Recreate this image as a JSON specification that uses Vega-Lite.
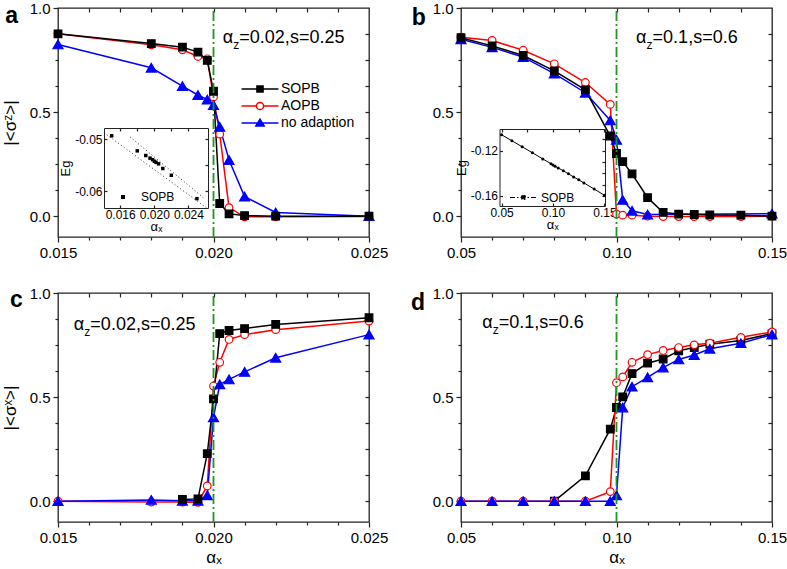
{
"$schema":"https://vega.github.io/schema/vega-lite/v6.json",
"background":"white",
"padding":{"left":0,"top":0,"right":0,"bottom":0},
"config":{
 "font":"Liberation Sans",
 "view":{"stroke":"#222","strokeWidth":1.3},
 "axis":{"grid":false,"domainColor":"#222","tickColor":"#222","tickWidth":1.2,"labelColor":"black","labelFont":"Liberation Sans","labelFontSize":15,"titleFont":"Liberation Sans","titleFontWeight":"normal","titleColor":"black","titleFontSize":17,"labelFlush":false,"labelOverlap":false},
 "legend":{"labelFont":"Liberation Sans","labelColor":"black"}
},
"datasets":{
 "a":[
  {"series":"AOPB","x":0.015,"y":0.876},{"series":"AOPB","x":0.018,"y":0.823},{"series":"AOPB","x":0.019,"y":0.799},{"series":"AOPB","x":0.0195,"y":0.767},{"series":"AOPB","x":0.0198,"y":0.756},{"series":"AOPB","x":0.02,"y":0.573},{"series":"AOPB","x":0.0202,"y":0.394},{"series":"AOPB","x":0.0205,"y":0.041},{"series":"AOPB","x":0.021,"y":-0.003},{"series":"AOPB","x":0.022,"y":-0.003},{"series":"AOPB","x":0.025,"y":-0.002},
  {"series":"no adaption","x":0.015,"y":0.825},{"series":"no adaption","x":0.018,"y":0.713},{"series":"no adaption","x":0.019,"y":0.625},{"series":"no adaption","x":0.0195,"y":0.582},{"series":"no adaption","x":0.0198,"y":0.56},{"series":"no adaption","x":0.02,"y":0.534},{"series":"no adaption","x":0.0202,"y":0.429},{"series":"no adaption","x":0.0205,"y":0.27},{"series":"no adaption","x":0.021,"y":0.094},{"series":"no adaption","x":0.022,"y":0.018},{"series":"no adaption","x":0.025,"y":0.0},
  {"series":"SOPB","x":0.015,"y":0.876},{"series":"SOPB","x":0.018,"y":0.829},{"series":"SOPB","x":0.019,"y":0.812},{"series":"SOPB","x":0.0195,"y":0.788},{"series":"SOPB","x":0.0198,"y":0.748},{"series":"SOPB","x":0.02,"y":0.6},{"series":"SOPB","x":0.0202,"y":0.061},{"series":"SOPB","x":0.0205,"y":0.011},{"series":"SOPB","x":0.021,"y":0.003},{"series":"SOPB","x":0.022,"y":0.0},{"series":"SOPB","x":0.025,"y":0.0}
 ],
 "b":[
  {"series":"AOPB","x":0.05,"y":0.86},{"series":"AOPB","x":0.06,"y":0.844},{"series":"AOPB","x":0.07,"y":0.797},{"series":"AOPB","x":0.08,"y":0.732},{"series":"AOPB","x":0.09,"y":0.642},{"series":"AOPB","x":0.098,"y":0.537},{"series":"AOPB","x":0.1,"y":0.01},{"series":"AOPB","x":0.102,"y":0.005},{"series":"AOPB","x":0.105,"y":0.005},{"series":"AOPB","x":0.11,"y":0.0},{"series":"AOPB","x":0.115,"y":-0.002},{"series":"AOPB","x":0.12,"y":-0.002},{"series":"AOPB","x":0.125,"y":-0.002},{"series":"AOPB","x":0.13,"y":-0.002},{"series":"AOPB","x":0.14,"y":-0.002},{"series":"AOPB","x":0.15,"y":0.0},
  {"series":"no adaption","x":0.05,"y":0.85},{"series":"no adaption","x":0.06,"y":0.811},{"series":"no adaption","x":0.07,"y":0.764},{"series":"no adaption","x":0.08,"y":0.685},{"series":"no adaption","x":0.09,"y":0.593},{"series":"no adaption","x":0.098,"y":0.46},{"series":"no adaption","x":0.1,"y":0.367},{"series":"no adaption","x":0.102,"y":0.078},{"series":"no adaption","x":0.105,"y":0.026},{"series":"no adaption","x":0.11,"y":0.008},{"series":"no adaption","x":0.15,"y":0.012},
  {"series":"SOPB","x":0.05,"y":0.857},{"series":"SOPB","x":0.06,"y":0.818},{"series":"SOPB","x":0.07,"y":0.772},{"series":"SOPB","x":0.08,"y":0.698},{"series":"SOPB","x":0.09,"y":0.607},{"series":"SOPB","x":0.098,"y":0.385},{"series":"SOPB","x":0.1,"y":0.301},{"series":"SOPB","x":0.102,"y":0.262},{"series":"SOPB","x":0.105,"y":0.203},{"series":"SOPB","x":0.11,"y":0.089},{"series":"SOPB","x":0.115,"y":0.018},{"series":"SOPB","x":0.12,"y":0.01},{"series":"SOPB","x":0.125,"y":0.008},{"series":"SOPB","x":0.13,"y":0.006},{"series":"SOPB","x":0.14,"y":0.005},{"series":"SOPB","x":0.15,"y":0.0}
 ],
 "c":[
  {"series":"AOPB","x":0.015,"y":0.0},{"series":"AOPB","x":0.018,"y":-0.004},{"series":"AOPB","x":0.019,"y":-0.004},{"series":"AOPB","x":0.0195,"y":-0.006},{"series":"AOPB","x":0.0198,"y":0.073},{"series":"AOPB","x":0.02,"y":0.553},{"series":"AOPB","x":0.0202,"y":0.667},{"series":"AOPB","x":0.0205,"y":0.777},{"series":"AOPB","x":0.021,"y":0.8},{"series":"AOPB","x":0.022,"y":0.824},{"series":"AOPB","x":0.025,"y":0.865},
  {"series":"no adaption","x":0.015,"y":0.0},{"series":"no adaption","x":0.018,"y":0.006},{"series":"no adaption","x":0.019,"y":0.002},{"series":"no adaption","x":0.0195,"y":0.002},{"series":"no adaption","x":0.0198,"y":0.028},{"series":"no adaption","x":0.02,"y":0.403},{"series":"no adaption","x":0.0202,"y":0.561},{"series":"no adaption","x":0.0205,"y":0.585},{"series":"no adaption","x":0.021,"y":0.621},{"series":"no adaption","x":0.022,"y":0.689},{"series":"no adaption","x":0.025,"y":0.8},
  {"series":"SOPB","x":0.019,"y":0.008},{"series":"SOPB","x":0.0195,"y":0.011},{"series":"SOPB","x":0.0198,"y":0.228},{"series":"SOPB","x":0.02,"y":0.491},{"series":"SOPB","x":0.0202,"y":0.805},{"series":"SOPB","x":0.0205,"y":0.82},{"series":"SOPB","x":0.021,"y":0.829},{"series":"SOPB","x":0.022,"y":0.849},{"series":"SOPB","x":0.025,"y":0.881}
 ],
 "d":[
  {"series":"SOPB","x":0.08,"y":0.0},{"series":"SOPB","x":0.09,"y":0.122},{"series":"SOPB","x":0.098,"y":0.346},{"series":"SOPB","x":0.1,"y":0.45},{"series":"SOPB","x":0.102,"y":0.501},{"series":"SOPB","x":0.105,"y":0.613},{"series":"SOPB","x":0.11,"y":0.663},{"series":"SOPB","x":0.115,"y":0.683},{"series":"SOPB","x":0.12,"y":0.722},{"series":"SOPB","x":0.125,"y":0.738},{"series":"SOPB","x":0.13,"y":0.754},{"series":"SOPB","x":0.14,"y":0.772},{"series":"SOPB","x":0.15,"y":0.805},
  {"series":"AOPB","x":0.05,"y":0.0},{"series":"AOPB","x":0.06,"y":0.0},{"series":"AOPB","x":0.07,"y":0.0},{"series":"AOPB","x":0.08,"y":0.0},{"series":"AOPB","x":0.09,"y":0.0},{"series":"AOPB","x":0.098,"y":0.046},{"series":"AOPB","x":0.1,"y":0.569},{"series":"AOPB","x":0.102,"y":0.597},{"series":"AOPB","x":0.105,"y":0.667},{"series":"AOPB","x":0.11,"y":0.704},{"series":"AOPB","x":0.115,"y":0.724},{"series":"AOPB","x":0.12,"y":0.738},{"series":"AOPB","x":0.125,"y":0.751},{"series":"AOPB","x":0.13,"y":0.759},{"series":"AOPB","x":0.14,"y":0.787},{"series":"AOPB","x":0.15,"y":0.813},
  {"series":"no adaption","x":0.05,"y":0.0},{"series":"no adaption","x":0.06,"y":0.0},{"series":"no adaption","x":0.07,"y":0.0},{"series":"no adaption","x":0.08,"y":0.0},{"series":"no adaption","x":0.09,"y":0.0},{"series":"no adaption","x":0.098,"y":0.0},{"series":"no adaption","x":0.1,"y":0.028},{"series":"no adaption","x":0.102,"y":0.45},{"series":"no adaption","x":0.105,"y":0.55},{"series":"no adaption","x":0.11,"y":0.595},{"series":"no adaption","x":0.115,"y":0.642},{"series":"no adaption","x":0.12,"y":0.681},{"series":"no adaption","x":0.125,"y":0.702},{"series":"no adaption","x":0.13,"y":0.732},{"series":"no adaption","x":0.14,"y":0.759},{"series":"no adaption","x":0.15,"y":0.8}
 ],
 "insetA":[
  {"series":"SOPB","x":0.015,"y":-0.0493},{"series":"SOPB","x":0.018,"y":-0.0522},{"series":"SOPB","x":0.019,"y":-0.0531},{"series":"SOPB","x":0.0195,"y":-0.0536},{"series":"SOPB","x":0.0198,"y":-0.0539},{"series":"SOPB","x":0.02,"y":-0.0542},{"series":"SOPB","x":0.0202,"y":-0.0544},{"series":"SOPB","x":0.0205,"y":-0.0547},{"series":"SOPB","x":0.021,"y":-0.0556},{"series":"SOPB","x":0.022,"y":-0.0569},{"series":"SOPB","x":0.025,"y":-0.0614}
 ],
 "insetALines":[
  {"line":"l1","x":0.0141,"y":-0.0487},{"line":"l1","x":0.02615,"y":-0.0632},
  {"line":"l2","x":0.01715,"y":-0.0495},{"line":"l2","x":0.02575,"y":-0.0612}
 ],
 "insetB":[
  {"series":"SOPB","x":0.05,"y":-0.1058},{"series":"SOPB","x":0.06,"y":-0.1111},{"series":"SOPB","x":0.07,"y":-0.1165},{"series":"SOPB","x":0.08,"y":-0.1218},{"series":"SOPB","x":0.09,"y":-0.1272},{"series":"SOPB","x":0.098,"y":-0.1315},{"series":"SOPB","x":0.1,"y":-0.1326},{"series":"SOPB","x":0.102,"y":-0.1337},{"series":"SOPB","x":0.105,"y":-0.1352},{"series":"SOPB","x":0.11,"y":-0.1378},{"series":"SOPB","x":0.115,"y":-0.1405},{"series":"SOPB","x":0.12,"y":-0.1432},{"series":"SOPB","x":0.125,"y":-0.1458},{"series":"SOPB","x":0.13,"y":-0.1485},{"series":"SOPB","x":0.14,"y":-0.154},{"series":"SOPB","x":0.15,"y":-0.1595}
 ]
},
"columns":2,
"spacing":{"row":56,"column":92},
"bounds":"flush",
"resolve":{"scale":{"stroke":"independent","fill":"independent","shape":"independent","size":"independent","color":"independent"}},
"concat":[
 {
  "width":311,"height":229,
  "layer":[
   {
    "layer":[
     {
      "data":{"name":"a"},
      "mark":{"type":"line","strokeWidth":1.5},
      "encoding":{
       "x":{"field":"x","type":"quantitative","scale":{"domain":[0.015,0.025],"nice":false,"zero":false},"axis":{"orient":"bottom","values":[0.016,0.017,0.018,0.019,0.021,0.022,0.023,0.024],"labels":false,"tickSize":3,"domain":false,"title":null}},
       "y":{"field":"y","type":"quantitative","scale":{"domain":[-0.1,1],"nice":false,"zero":false},"axis":{"orient":"left","values":[0.125,0.25,0.375,0.625,0.75,0.875],"labels":false,"tickSize":3,"domain":false,"title":null}},
       "stroke":{"field":"series","type":"nominal","scale":{"domain":["SOPB","AOPB","no adaption"],"range":["black","red","blue"]},
        "legend":{"orient":"none","legendX":192,"legendY":71,"title":null,"padding":0,"rowPadding":0,"symbolSize":324,"labelFontSize":14,"labelOffset":11,"labelColor":"black",
         "encode":{"symbols":{"update":{
          "shape":{"signal":"datum.value === 'SOPB' ? 'M-2.05,0H2.05M-0.34,-0.34H0.34V0.34H-0.34Z' : datum.value === 'AOPB' ? 'M-2.05,0H-0.4M0.4,0H2.05M-0.4,0A0.4,0.4 0 1,0 0.4,0A0.4,0.4 0 1,0 -0.4,0Z' : 'M-2.05,0H2.05M0,-0.42L0.46,0.34H-0.46Z'"},
          "fill":{"signal":"datum.value === 'SOPB' ? 'black' : datum.value === 'AOPB' ? 'white' : 'blue'"},
          "stroke":{"signal":"datum.value === 'SOPB' ? 'black' : datum.value === 'AOPB' ? 'red' : 'blue'"},
          "strokeWidth":{"value":1.5},"fillOpacity":{"value":1},"opacity":{"value":1}}}}}}
      }
     },
     {
      "data":{"name":"a"},
      "mark":{"type":"point","filled":true,"opacity":1,"strokeWidth":1.2},
      "encoding":{
       "x":{"field":"x","type":"quantitative","scale":{"domain":[0.015,0.025],"nice":false,"zero":false},"axis":{"orient":"top","values":[0.016,0.017,0.018,0.019,0.02,0.021,0.022,0.023,0.024],"labels":false,"tickSize":-4,"domain":false,"title":null}},
       "y":{"field":"y","type":"quantitative","scale":{"domain":[-0.1,1],"nice":false,"zero":false},"axis":{"orient":"right","values":[0,0.125,0.25,0.375,0.5,0.625,0.75,0.875],"labels":false,"tickSize":-4,"domain":false,"title":null}},
       "shape":{"field":"series","type":"nominal","scale":{"domain":["SOPB","AOPB","no adaption"],"range":["square","circle","triangle-up"]},"legend":null},
       "fill":{"field":"series","type":"nominal","scale":{"domain":["SOPB","AOPB","no adaption"],"range":["black","white","blue"]},"legend":null},
       "stroke":{"field":"series","type":"nominal","scale":{"domain":["SOPB","AOPB","no adaption"],"range":["black","red","blue"]},"legend":null},
       "size":{"condition":{"test":"datum.series === 'no adaption'","value":100},"value":58}
      }
     },
     {
      "data":{"values":[{"x":0.02}]},
      "mark":{"type":"rule","color":"#1f961f","strokeWidth":1.8,"strokeDash":[10,3,2,3]},
      "encoding":{
       "x":{"field":"x","type":"quantitative","scale":{"domain":[0.015,0.025],"nice":false,"zero":false},"axis":{"orient":"bottom","values":[0.015,0.02,0.025],"format":".3f","tickSize":5,"labelPadding":3,"domain":false,"title":null}},
       "y":{"datum":-0.1,"type":"quantitative","scale":{"domain":[-0.1,1],"nice":false,"zero":false},"axis":{"orient":"left","values":[0,0.5,1],"format":".1f","tickSize":5,"labelPadding":3,"domain":false,"title":"|<σᶻ>|","titlePadding":10}},
       "y2":{"datum":1}
      }
     },
     {
      "data":{"values":[{"x":0.0203,"y":0.834,"a":"α","z":"z","r":"=0.02,s=0.25"}]},
      "encoding":{
       "x":{"field":"x","type":"quantitative","scale":{"domain":[0.015,0.025],"nice":false,"zero":false},"axis":null},
       "y":{"field":"y","type":"quantitative","scale":{"domain":[-0.1,1],"nice":false,"zero":false},"axis":null}
      },
      "layer":[
       {"mark":{"type":"text","align":"left","baseline":"alphabetic","fontSize":18,"color":"black"},"encoding":{"text":{"field":"a"}}},
       {"mark":{"type":"text","align":"left","baseline":"alphabetic","fontSize":12,"dx":10.5,"dy":6,"color":"black"},"encoding":{"text":{"field":"z"}}},
       {"mark":{"type":"text","align":"left","baseline":"alphabetic","fontSize":18,"dx":16.5,"color":"black"},"encoding":{"text":{"field":"r"}}}
      ]
     },
     {
      "data":{"values":[{"x":0.0133,"y":0.928,"t":"a"}]},
      "mark":{"type":"text","align":"left","baseline":"alphabetic","fontSize":23,"fontWeight":"bold","color":"black"},
      "encoding":{
       "x":{"field":"x","type":"quantitative","scale":{"domain":[0.015,0.025],"nice":false,"zero":false},"axis":null},
       "y":{"field":"y","type":"quantitative","scale":{"domain":[-0.1,1],"nice":false,"zero":false},"axis":null},
       "text":{"field":"t"}
      }
     }
    ],
    "resolve":{"axis":{"x":"independent","y":"independent"}}
   },
   {
    "layer":[
     {
      "data":{"name":"insetALines"},
      "mark":{"type":"line","strokeWidth":1,"strokeDash":[1,2.5],"color":"#333"},
      "encoding":{
       "x":{"field":"x","type":"quantitative","scale":{"domain":[0.0141,0.0263],"range":[46,150],"nice":false,"zero":false},"axis":{"orient":"bottom","offset":-29,"values":[0.016,0.02,0.024],"format":".3f","tickSize":-3,"labelPadding":4,"labelFontSize":12,"domain":true,"domainWidth":1,"title":"αₓ","titleFontSize":13,"titlePadding":0}},
       "y":{"field":"y","type":"quantitative","scale":{"domain":[-0.0632,-0.0478],"range":[200,120],"nice":false,"zero":false},"axis":{"orient":"left","offset":-46,"values":[-0.05,-0.06],"labelExpr":"'-' + format(abs(datum.value), '.2f')","tickSize":-3,"labelPadding":5,"labelFontSize":12,"domain":true,"domainWidth":1,"title":"Eg","titleFontSize":13,"titlePadding":2}},
       "detail":{"field":"line","type":"nominal"}
      }
     },
     {
      "data":{"name":"insetA"},
      "mark":{"type":"point","filled":true,"color":"black","opacity":1,"size":12},
      "encoding":{
       "x":{"field":"x","type":"quantitative","scale":{"domain":[0.0141,0.0263],"range":[46,150],"nice":false,"zero":false},"axis":{"orient":"top","offset":-120,"values":[0.016,0.018,0.02,0.022,0.024],"labels":false,"tickSize":-3,"domain":true,"domainWidth":1,"title":null}},
       "y":{"field":"y","type":"quantitative","scale":{"domain":[-0.0632,-0.0478],"range":[200,120],"nice":false,"zero":false},"axis":{"orient":"right","offset":-161,"values":[-0.05,-0.055,-0.06],"labels":false,"tickSize":-3,"domain":true,"domainWidth":1,"title":null}},
       "shape":{"field":"series","type":"nominal","scale":{"domain":["SOPB"],"range":["square"]},
        "legend":{"orient":"none","legendX":59,"legendY":183,"title":null,"padding":0,"symbolSize":16,"labelFontSize":12,"labelOffset":12,
         "encode":{"symbols":{"update":{"fill":{"value":"black"},"stroke":{"value":"black"},"fillOpacity":{"value":1},"opacity":{"value":1}}}}}}
      }
     }
    ],
    "resolve":{"axis":{"x":"independent","y":"independent"}}
   }
  ],
  "resolve":{"scale":{"x":"independent","y":"independent","shape":"independent"}}
 },
 {
  "width":311,"height":229,
  "layer":[
   {
    "layer":[
     {
      "data":{"name":"b"},
      "mark":{"type":"line","strokeWidth":1.5},
      "encoding":{
       "x":{"field":"x","type":"quantitative","scale":{"domain":[0.05,0.15],"nice":false,"zero":false},"axis":{"orient":"bottom","values":[0.06,0.07,0.08,0.09,0.11,0.12,0.13,0.14],"labels":false,"tickSize":3,"domain":false,"title":null}},
       "y":{"field":"y","type":"quantitative","scale":{"domain":[-0.1,1],"nice":false,"zero":false},"axis":{"orient":"left","values":[0.125,0.25,0.375,0.625,0.75,0.875],"labels":false,"tickSize":3,"domain":false,"title":null}},
       "stroke":{"field":"series","type":"nominal","scale":{"domain":["SOPB","AOPB","no adaption"],"range":["black","red","blue"]},"legend":null}
      }
     },
     {
      "data":{"name":"b"},
      "mark":{"type":"point","filled":true,"opacity":1,"strokeWidth":1.2},
      "encoding":{
       "x":{"field":"x","type":"quantitative","scale":{"domain":[0.05,0.15],"nice":false,"zero":false},"axis":{"orient":"top","values":[0.06,0.07,0.08,0.09,0.1,0.11,0.12,0.13,0.14],"labels":false,"tickSize":-4,"domain":false,"title":null}},
       "y":{"field":"y","type":"quantitative","scale":{"domain":[-0.1,1],"nice":false,"zero":false},"axis":{"orient":"right","values":[0,0.125,0.25,0.375,0.5,0.625,0.75,0.875],"labels":false,"tickSize":-4,"domain":false,"title":null}},
       "shape":{"field":"series","type":"nominal","scale":{"domain":["SOPB","AOPB","no adaption"],"range":["square","circle","triangle-up"]},"legend":null},
       "fill":{"field":"series","type":"nominal","scale":{"domain":["SOPB","AOPB","no adaption"],"range":["black","white","blue"]},"legend":null},
       "stroke":{"field":"series","type":"nominal","scale":{"domain":["SOPB","AOPB","no adaption"],"range":["black","red","blue"]},"legend":null},
       "size":{"condition":{"test":"datum.series === 'no adaption'","value":100},"value":58}
      }
     },
     {
      "data":{"values":[{"x":0.1}]},
      "mark":{"type":"rule","color":"#1f961f","strokeWidth":1.8,"strokeDash":[10,3,2,3]},
      "encoding":{
       "x":{"field":"x","type":"quantitative","scale":{"domain":[0.05,0.15],"nice":false,"zero":false},"axis":{"orient":"bottom","values":[0.05,0.1,0.15],"format":".2f","tickSize":5,"labelPadding":3,"domain":false,"title":null}},
       "y":{"datum":-0.1,"type":"quantitative","scale":{"domain":[-0.1,1],"nice":false,"zero":false},"axis":{"orient":"left","values":[0,0.5,1],"format":".1f","tickSize":5,"labelPadding":3,"domain":false,"title":null}},
       "y2":{"datum":1}
      }
     },
     {
      "data":{"values":[{"x":0.1063,"y":0.834,"a":"α","z":"z","r":"=0.1,s=0.6"}]},
      "encoding":{
       "x":{"field":"x","type":"quantitative","scale":{"domain":[0.05,0.15],"nice":false,"zero":false},"axis":null},
       "y":{"field":"y","type":"quantitative","scale":{"domain":[-0.1,1],"nice":false,"zero":false},"axis":null}
      },
      "layer":[
       {"mark":{"type":"text","align":"left","baseline":"alphabetic","fontSize":18,"color":"black"},"encoding":{"text":{"field":"a"}}},
       {"mark":{"type":"text","align":"left","baseline":"alphabetic","fontSize":12,"dx":10.5,"dy":6,"color":"black"},"encoding":{"text":{"field":"z"}}},
       {"mark":{"type":"text","align":"left","baseline":"alphabetic","fontSize":18,"dx":16.5,"color":"black"},"encoding":{"text":{"field":"r"}}}
      ]
     },
     {
      "data":{"values":[{"x":0.03415,"y":0.918,"t":"b"}]},
      "mark":{"type":"text","align":"left","baseline":"alphabetic","fontSize":23,"fontWeight":"bold","color":"black"},
      "encoding":{
       "x":{"field":"x","type":"quantitative","scale":{"domain":[0.05,0.15],"nice":false,"zero":false},"axis":null},
       "y":{"field":"y","type":"quantitative","scale":{"domain":[-0.1,1],"nice":false,"zero":false},"axis":null},
       "text":{"field":"t"}
      }
     }
    ],
    "resolve":{"axis":{"x":"independent","y":"independent"}}
   },
   {
    "layer":[
     {
      "data":{"name":"insetB"},
      "mark":{"type":"line","strokeWidth":1},
      "encoding":{
       "x":{"field":"x","type":"quantitative","scale":{"domain":[0.048,0.1505],"range":[38.5,144],"nice":false,"zero":false},"axis":{"orient":"bottom","offset":-31,"values":[0.05,0.1,0.15],"format":".2f","tickSize":-3,"labelPadding":4,"labelFontSize":12,"domain":true,"domainWidth":1,"title":"αₓ","titleFontSize":13,"titlePadding":0}},
       "y":{"field":"y","type":"quantitative","scale":{"domain":[-0.169,-0.1007],"range":[198,121],"nice":false,"zero":false},"axis":{"orient":"left","offset":-38.5,"values":[-0.12,-0.16],"labelExpr":"'-' + format(abs(datum.value), '.2f')","tickSize":-3,"labelPadding":5,"labelFontSize":12,"domain":true,"domainWidth":1,"title":"Eg","titleFontSize":13,"titlePadding":2}},
       "color":{"field":"series","type":"nominal","scale":{"domain":["SOPB"],"range":["black"]},
        "legend":{"orient":"none","legendX":53,"legendY":180,"title":null,"padding":0,"symbolSize":324,"labelFontSize":12,"labelOffset":8,
         "encode":{"symbols":{"update":{"shape":{"value":"M-1.5,0H1.5M-0.2,-0.2H0.2V0.2H-0.2Z"},"fill":{"value":"black"},"stroke":{"value":"black"},"strokeWidth":{"value":1},"strokeDash":{"value":[5,2,1.5,2]},"fillOpacity":{"value":1},"opacity":{"value":1}}}}}}
      }
     },
     {
      "data":{"name":"insetB"},
      "mark":{"type":"point","filled":true,"color":"black","opacity":1,"size":9},
      "encoding":{
       "x":{"field":"x","type":"quantitative","scale":{"domain":[0.048,0.1505],"range":[38.5,144],"nice":false,"zero":false},"axis":{"orient":"top","offset":-121,"values":[0.05,0.075,0.1,0.125,0.15],"labels":false,"tickSize":-3,"domain":true,"domainWidth":1,"title":null}},
       "y":{"field":"y","type":"quantitative","scale":{"domain":[-0.169,-0.1007],"range":[198,121],"nice":false,"zero":false},"axis":{"orient":"right","offset":-167,"values":[-0.11,-0.12,-0.13,-0.14,-0.15,-0.16],"labels":false,"tickSize":-3,"domain":true,"domainWidth":1,"title":null}}
      }
     }
    ],
    "resolve":{"axis":{"x":"independent","y":"independent"}}
   }
  ],
  "resolve":{"scale":{"x":"independent","y":"independent","color":"independent"}}
 },
 {
  "width":311,"height":229,
  "layer":[
   {
    "data":{"name":"c"},
    "mark":{"type":"line","strokeWidth":1.5},
    "encoding":{
     "x":{"field":"x","type":"quantitative","scale":{"domain":[0.015,0.025],"nice":false,"zero":false},"axis":{"orient":"bottom","values":[0.016,0.017,0.018,0.019,0.021,0.022,0.023,0.024],"labels":false,"tickSize":3,"domain":false,"title":null}},
     "y":{"field":"y","type":"quantitative","scale":{"domain":[-0.1,1],"nice":false,"zero":false},"axis":{"orient":"left","values":[0.125,0.25,0.375,0.625,0.75,0.875],"labels":false,"tickSize":3,"domain":false,"title":null}},
     "stroke":{"field":"series","type":"nominal","scale":{"domain":["SOPB","AOPB","no adaption"],"range":["black","red","blue"]},"legend":null}
    }
   },
   {
    "data":{"name":"c"},
    "mark":{"type":"point","filled":true,"opacity":1,"strokeWidth":1.2},
    "encoding":{
     "x":{"field":"x","type":"quantitative","scale":{"domain":[0.015,0.025],"nice":false,"zero":false},"axis":{"orient":"top","values":[0.016,0.017,0.018,0.019,0.02,0.021,0.022,0.023,0.024],"labels":false,"tickSize":-4,"domain":false,"title":null}},
     "y":{"field":"y","type":"quantitative","scale":{"domain":[-0.1,1],"nice":false,"zero":false},"axis":{"orient":"right","values":[0,0.125,0.25,0.375,0.5,0.625,0.75,0.875],"labels":false,"tickSize":-4,"domain":false,"title":null}},
     "shape":{"field":"series","type":"nominal","scale":{"domain":["SOPB","AOPB","no adaption"],"range":["square","circle","triangle-up"]},"legend":null},
     "fill":{"field":"series","type":"nominal","scale":{"domain":["SOPB","AOPB","no adaption"],"range":["black","white","blue"]},"legend":null},
     "stroke":{"field":"series","type":"nominal","scale":{"domain":["SOPB","AOPB","no adaption"],"range":["black","red","blue"]},"legend":null},
     "size":{"condition":{"test":"datum.series === 'no adaption'","value":100},"value":58}
    }
   },
   {
    "data":{"values":[{"x":0.02}]},
    "mark":{"type":"rule","color":"#1f961f","strokeWidth":1.8,"strokeDash":[10,3,2,3]},
    "encoding":{
     "x":{"field":"x","type":"quantitative","scale":{"domain":[0.015,0.025],"nice":false,"zero":false},"axis":{"orient":"bottom","values":[0.015,0.02,0.025],"format":".3f","tickSize":5,"labelPadding":3,"domain":false,"title":"αₓ","titlePadding":4}},
     "y":{"datum":-0.1,"type":"quantitative","scale":{"domain":[-0.1,1],"nice":false,"zero":false},"axis":{"orient":"left","values":[0,0.5,1],"format":".1f","tickSize":5,"labelPadding":3,"domain":false,"title":"|<σˣ>|","titlePadding":10}},
     "y2":{"datum":1}
    }
   },
   {
    "data":{"values":[{"x":0.01551,"y":0.821,"a":"α","z":"z","r":"=0.02,s=0.25"}]},
    "encoding":{
     "x":{"field":"x","type":"quantitative","scale":{"domain":[0.015,0.025],"nice":false,"zero":false},"axis":null},
     "y":{"field":"y","type":"quantitative","scale":{"domain":[-0.1,1],"nice":false,"zero":false},"axis":null}
    },
    "layer":[
     {"mark":{"type":"text","align":"left","baseline":"alphabetic","fontSize":18,"color":"black"},"encoding":{"text":{"field":"a"}}},
     {"mark":{"type":"text","align":"left","baseline":"alphabetic","fontSize":12,"dx":10.5,"dy":6,"color":"black"},"encoding":{"text":{"field":"z"}}},
     {"mark":{"type":"text","align":"left","baseline":"alphabetic","fontSize":18,"dx":16.5,"color":"black"},"encoding":{"text":{"field":"r"}}}
    ]
   },
   {
    "data":{"values":[{"x":0.01346,"y":0.935,"t":"c"}]},
    "mark":{"type":"text","align":"left","baseline":"alphabetic","fontSize":23,"fontWeight":"bold","color":"black"},
    "encoding":{
     "x":{"field":"x","type":"quantitative","scale":{"domain":[0.015,0.025],"nice":false,"zero":false},"axis":null},
     "y":{"field":"y","type":"quantitative","scale":{"domain":[-0.1,1],"nice":false,"zero":false},"axis":null},
     "text":{"field":"t"}
    }
   }
  ],
  "resolve":{"axis":{"x":"independent","y":"independent"}}
 },
 {
  "width":311,"height":229,
  "layer":[
   {
    "data":{"name":"d"},
    "mark":{"type":"line","strokeWidth":1.5},
    "encoding":{
     "x":{"field":"x","type":"quantitative","scale":{"domain":[0.05,0.15],"nice":false,"zero":false},"axis":{"orient":"bottom","values":[0.06,0.07,0.08,0.09,0.11,0.12,0.13,0.14],"labels":false,"tickSize":3,"domain":false,"title":null}},
     "y":{"field":"y","type":"quantitative","scale":{"domain":[-0.1,1],"nice":false,"zero":false},"axis":{"orient":"left","values":[0.125,0.25,0.375,0.625,0.75,0.875],"labels":false,"tickSize":3,"domain":false,"title":null}},
     "stroke":{"field":"series","type":"nominal","scale":{"domain":["SOPB","AOPB","no adaption"],"range":["black","red","blue"]},"legend":null}
    }
   },
   {
    "data":{"name":"d"},
    "mark":{"type":"point","filled":true,"opacity":1,"strokeWidth":1.2},
    "encoding":{
     "x":{"field":"x","type":"quantitative","scale":{"domain":[0.05,0.15],"nice":false,"zero":false},"axis":{"orient":"top","values":[0.06,0.07,0.08,0.09,0.1,0.11,0.12,0.13,0.14],"labels":false,"tickSize":-4,"domain":false,"title":null}},
     "y":{"field":"y","type":"quantitative","scale":{"domain":[-0.1,1],"nice":false,"zero":false},"axis":{"orient":"right","values":[0,0.125,0.25,0.375,0.5,0.625,0.75,0.875],"labels":false,"tickSize":-4,"domain":false,"title":null}},
     "shape":{"field":"series","type":"nominal","scale":{"domain":["SOPB","AOPB","no adaption"],"range":["square","circle","triangle-up"]},"legend":null},
     "fill":{"field":"series","type":"nominal","scale":{"domain":["SOPB","AOPB","no adaption"],"range":["black","white","blue"]},"legend":null},
     "stroke":{"field":"series","type":"nominal","scale":{"domain":["SOPB","AOPB","no adaption"],"range":["black","red","blue"]},"legend":null},
     "size":{"condition":{"test":"datum.series === 'no adaption'","value":100},"value":58}
    }
   },
   {
    "data":{"values":[{"x":0.1}]},
    "mark":{"type":"rule","color":"#1f961f","strokeWidth":1.8,"strokeDash":[10,3,2,3]},
    "encoding":{
     "x":{"field":"x","type":"quantitative","scale":{"domain":[0.05,0.15],"nice":false,"zero":false},"axis":{"orient":"bottom","values":[0.05,0.1,0.15],"format":".2f","tickSize":5,"labelPadding":3,"domain":false,"title":"αₓ","titlePadding":4}},
     "y":{"datum":-0.1,"type":"quantitative","scale":{"domain":[-0.1,1],"nice":false,"zero":false},"axis":{"orient":"left","values":[0,0.5,1],"format":".1f","tickSize":5,"labelPadding":3,"domain":false,"title":null}},
     "y2":{"datum":1}
    }
   },
   {
    "data":{"values":[{"x":0.0568,"y":0.83,"a":"α","z":"z","r":"=0.1,s=0.6"}]},
    "encoding":{
     "x":{"field":"x","type":"quantitative","scale":{"domain":[0.05,0.15],"nice":false,"zero":false},"axis":null},
     "y":{"field":"y","type":"quantitative","scale":{"domain":[-0.1,1],"nice":false,"zero":false},"axis":null}
    },
    "layer":[
     {"mark":{"type":"text","align":"left","baseline":"alphabetic","fontSize":18,"color":"black"},"encoding":{"text":{"field":"a"}}},
     {"mark":{"type":"text","align":"left","baseline":"alphabetic","fontSize":12,"dx":10.5,"dy":6,"color":"black"},"encoding":{"text":{"field":"z"}}},
     {"mark":{"type":"text","align":"left","baseline":"alphabetic","fontSize":18,"dx":16.5,"color":"black"},"encoding":{"text":{"field":"r"}}}
    ]
   },
   {
    "data":{"values":[{"x":0.0339,"y":0.918,"t":"d"}]},
    "mark":{"type":"text","align":"left","baseline":"alphabetic","fontSize":23,"fontWeight":"bold","color":"black"},
    "encoding":{
     "x":{"field":"x","type":"quantitative","scale":{"domain":[0.05,0.15],"nice":false,"zero":false},"axis":null},
     "y":{"field":"y","type":"quantitative","scale":{"domain":[-0.1,1],"nice":false,"zero":false},"axis":null},
     "text":{"field":"t"}
    }
   }
  ],
  "resolve":{"axis":{"x":"independent","y":"independent"}}
 }
]
}
